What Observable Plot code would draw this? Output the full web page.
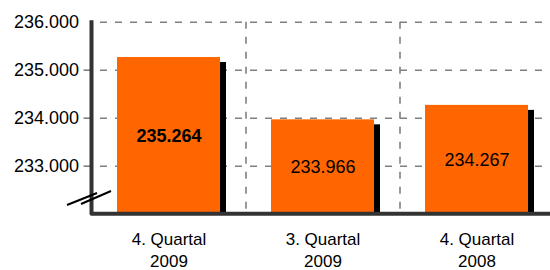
<!DOCTYPE html>
<html>
<head>
<meta charset="utf-8">
<script src="https://cdn.jsdelivr.net/npm/d3@7"></script>
<script src="https://cdn.jsdelivr.net/npm/@observablehq/plot@0.6"></script>
<style>
  html, body { margin: 0; padding: 0; background: #fff; }
  #chart svg { display: block; }
</style>
</head>
<body>
<div id="chart"></div>
<script>
// ---- data ----
const categories = ["4. Quartal\n2009", "3. Quartal\n2009", "4. Quartal\n2008"];
const values = [235264, 233966, 234267];
const highlight = [true, false, false];
const yTicks = [233000, 234000, 235000, 236000];
const yTickMarks = [233000, 234000, 235000];
const yDomain = [232000, 236000];

const data = categories.map((c, i) => ({cat: c, value: values[i], bold: highlight[i]}));

const de = d3.formatLocale({decimal: ",", thousands: ".", grouping: [3], currency: ["", " €"]});
const fmt = de.format(",d");

const FONT = "'Liberation Sans', Arial, Helvetica, sans-serif";
const W = 550, H = 270;
const mL = 91.5, mT = 21.7, mB = 56.3, mR = 0;
const xRange = [91.5, 553.5];
const step = (xRange[1] - xRange[0]) / categories.length;
const grid = "#808080";

function axisFrame(index, scales, values, dims) {
  const ox = dims.marginLeft, oy = dims.height - dims.marginBottom;
  const g = d3.create("svg:g");
  g.append("path")
    .attr("d", `M${ox},${dims.marginTop - 1.5}V${oy}H${dims.width}`)
    .attr("fill", "none").attr("stroke", "#333").attr("stroke-width", 4)
    .attr("stroke-linejoin", "round");
  // axis break symbol
  const segs = [[-24.5, -8.7, 5.5, -20.7], [-10.5, -9.7, 19.5, -22.7]];
  for (const [a, b, c, d] of segs) {
    g.append("line")
      .attr("x1", ox + a).attr("y1", oy + b).attr("x2", ox + c).attr("y2", oy + d)
      .attr("stroke", "#000").attr("stroke-width", 2);
  }
  return g.node();
}

const chart = Plot.plot({
  width: W, height: H,
  marginLeft: mL, marginTop: mT, marginBottom: mB, marginRight: mR,
  style: {fontFamily: FONT, fontSize: "17px", color: "#000", background: "#fff"},
  x: {type: "band", domain: categories, range: xRange, paddingInner: 0.33, paddingOuter: 0.165, axis: null, label: null},
  y: {domain: yDomain, axis: null, label: null},
  marks: [
    Plot.ruleY(yTicks, {stroke: grid, strokeWidth: 1.6, strokeDasharray: "7,8", strokeDashoffset: 6.5}),
    Plot.ruleX(categories.slice(0, -1), {x: d => d, dx: step / 2, stroke: grid, strokeWidth: 1.6, strokeDasharray: "7,8"}),
    Plot.barY(data, {x: "cat", y1: yDomain[0], y2: "value", fill: "#000", dx: 6, dy: 5, clip: true}),
    Plot.barY(data, {x: "cat", y1: yDomain[0], y2: "value", fill: "#FF6600"}),
    Plot.text(data.filter(d => d.bold), {x: "cat", y: d => (d.value + yDomain[0]) / 2, text: d => fmt(d.value), fontSize: 18, fontWeight: "bold", fill: "#000"}),
    Plot.text(data.filter(d => !d.bold), {x: "cat", y: d => (d.value + yDomain[0]) / 2, text: d => fmt(d.value), fontSize: 18, fill: "#000"}),
    Plot.axisY({ticks: yTickMarks, tickSize: 8, stroke: grid, strokeWidth: 1.6, tickFormat: () => "", label: null}),
    Plot.axisY({ticks: yTicks, tickSize: 0, tickPadding: 13, tickFormat: fmt, fontSize: 18, fill: "#000", label: null}),
    Plot.axisX({tickSize: 0, tickPadding: 15, fontSize: 17, lineHeight: 1.29, fill: "#000", label: null}),
    axisFrame
  ]
});
document.getElementById("chart").appendChild(chart);
</script>
</body>
</html>
